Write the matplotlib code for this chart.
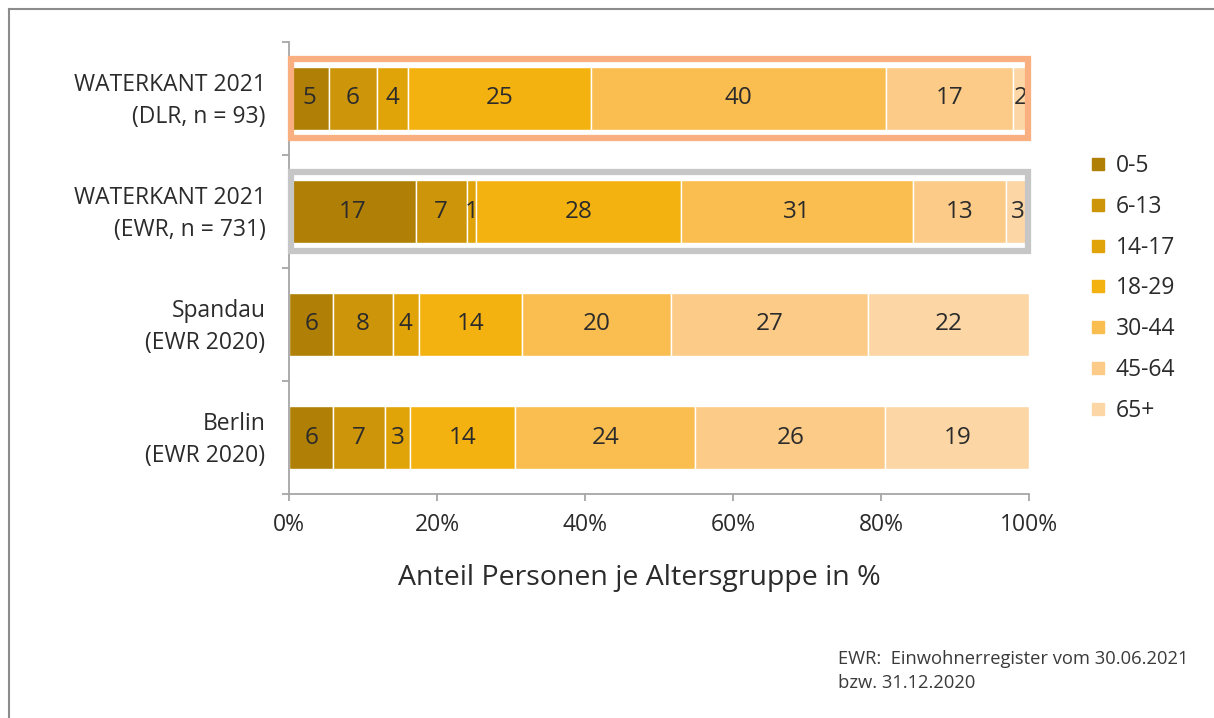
import numpy as np
import matplotlib.pyplot as plt
from matplotlib.patches import Rectangle
from matplotlib.lines import Line2D

plt.rcParams['font.family'] = ['Open Sans', 'DejaVu Sans']

# data: share of people per age group in %
groups = ['0-5', '6-13', '14-17', '18-29', '30-44', '45-64', '65+']
categories = ['WATERKANT 2021\n(DLR, n = 93)', 'WATERKANT 2021\n(EWR, n = 731)',
              'Spandau\n(EWR 2020)', 'Berlin\n(EWR 2020)']
dlr = [5.38, 6.45, 4.30, 24.73, 39.78, 17.20, 2.15]
ewr = [17.1, 6.9, 1.3, 27.7, 31.3, 12.6, 3.1]
spandau = [6.0, 8.0, 3.6, 13.9, 20.1, 26.6, 21.8]
berlin = [6.0, 7.0, 3.3, 14.3, 24.3, 25.7, 19.4]
colors = ['#B07F06', '#CC950A', '#E0A308', '#F4B210', '#FABE50', '#FCCB87', '#FCD7A5']
tick_vals = [0, 20, 40, 60, 80, 100]

data = np.array([dlr, ewr, spandau, berlin])
text_col = '#2b2b2b'
axis_col = '#a6a6a6'

fig = plt.figure(figsize=(12.14, 7.18), dpi=100)
ax = fig.add_axes([289 / 1214, 1 - 494 / 718, 740 / 1214, 452 / 718])

y = np.arange(len(categories))
left = np.zeros(len(categories))
for j, g in enumerate(groups):
    ax.barh(y, data[:, j], left=left, height=0.55, color=colors[j],
            edgecolor='white', linewidth=1, label=g)
    for i in range(len(categories)):
        ax.text(left[i] + data[i, j] / 2, y[i], f'{data[i, j]:.0f}',
                ha='center', va='center', fontsize=17.5, color=text_col)
    left += data[:, j]

# highlight boxes around the WATERKANT bars
ax.add_patch(Rectangle((0.3, -0.35), 99.6, 0.70, fill=False, edgecolor='#F9AF7F',
                       linewidth=4.5, clip_on=False, zorder=5))
ax.add_patch(Rectangle((0.3, 0.65), 99.6, 0.70, fill=False, edgecolor='#C6C6C6',
                       linewidth=4.5, clip_on=False, zorder=5))

ax.set_xlim(0, 100)
ax.set_ylim(3.5, -0.5)
ax.set_xticks(tick_vals)
ax.set_xticklabels([f'{v}%' for v in tick_vals], fontsize=16.5, color=text_col)
ax.set_yticks([-0.5, 0.5, 1.5, 2.5, 3.5])
ax.set_yticklabels([])
ax.set_yticks(y - 0.04, minor=True)
ax.set_yticklabels(categories, minor=True, fontsize=16.5, color=text_col,
                   linespacing=1.45)
ax.tick_params(axis='y', which='minor', length=0, pad=17)
ax.tick_params(axis='y', which='major', length=5, color=axis_col, width=1.3)
ax.tick_params(axis='x', length=5, color=axis_col, width=1.3, pad=9)
for s in ['top', 'right']:
    ax.spines[s].set_visible(False)
for s in ['left', 'bottom']:
    ax.spines[s].set_color(axis_col)
    ax.spines[s].set_linewidth(1.3)

ax.set_xlabel('Anteil Personen je Altersgruppe in %', fontsize=20.5,
              color=text_col, va='center')
ax.xaxis.set_label_coords(0.473, -0.186)

handles = [Line2D([], [], marker='s', linestyle='none', markersize=8,
                  color=c) for c in colors]
fig.legend(handles, groups, loc='upper left', bbox_to_anchor=(1070 / 1214, 1 - 133 / 718),
           frameon=False, fontsize=16.5, handlelength=0.6, handletextpad=0.5,
           labelspacing=0.74, labelcolor=text_col)

fig.text(838 / 1214, 1 - 650 / 718, 'EWR:  Einwohnerregister vom 30.06.2021\nbzw. 31.12.2020',
         fontsize=13.2, color='#3a3a3a', va='top', ha='left', linespacing=1.45)

# outer frame (left and top edges)
fig.add_artist(Line2D([9 / 1214, 9 / 1214], [0, 1 - 9 / 718], color='#8c8c8c', linewidth=1.5))
fig.add_artist(Line2D([9 / 1214, 1], [1 - 9 / 718, 1 - 9 / 718], color='#8c8c8c', linewidth=1.5))

fig.savefig('out.png', dpi=100, facecolor='white')
